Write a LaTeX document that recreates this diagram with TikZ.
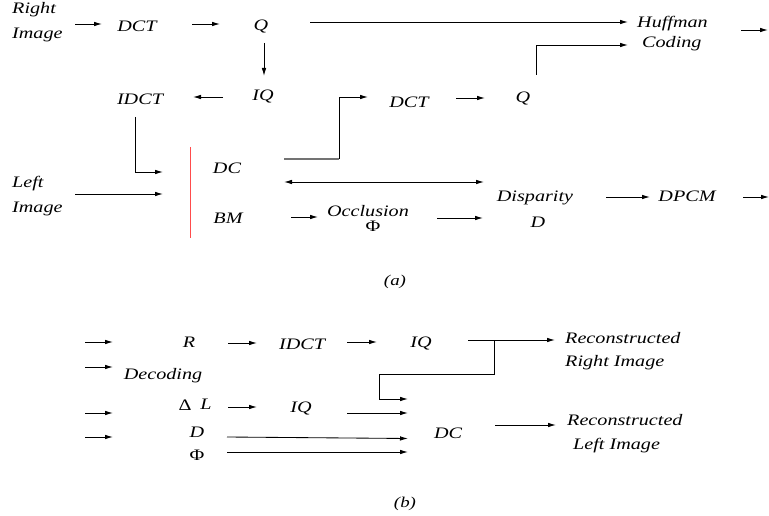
\documentclass[tikz,border=0pt]{standalone}
\usepackage{fontspec}
\setmainfont{Liberation Serif}[FakeStretch=1.26]
\usetikzlibrary{arrows.meta}
\tikzset{
  lbl/.style={font=\fontsize{16}{24}\selectfont\itshape, inner sep=0pt, anchor=base},
  lblw/.style={lbl, anchor=base west},
  captxt/.style={font=\fontsize{15}{18}\selectfont\itshape, inner sep=0pt, anchor=base},
  arr/.style={line width=0.85pt, -{Latex[length=8pt,width=4.5pt]}},
  darr/.style={line width=0.85pt, {Latex[length=8pt,width=4.5pt]}-{Latex[length=8pt,width=4.5pt]}},
  ln/.style={line width=0.85pt},
}
\begin{document}
\begin{tikzpicture}[x=1pt,y=-1pt]
\useasboundingbox (0,0) rectangle (769,516);
% ---------------- (a) labels
\node[lblw] (ri1) at (12,14) {Right};
\node[lblw] (ri2) at (12,39) {Image};
\node[lbl] (dct) at (137,32) {DCT};
\node[lbl] (q) at (261,31) {Q};
\node[lblw] (hf1) at (637,28) {Huffman};
\node[lblw] (hf2) at (642,48) {Coding};
\node[lbl] (iq) at (263,101) {IQ};
\node[lbl] (idct) at (140,105) {IDCT};
\node[lbl] (dcttwo) at (409,108) {DCT};
\node[lbl] (qtwo) at (523,103) {Q};
\node[lblw] (li1) at (12,188) {Left};
\node[lblw] (li2) at (12,213) {Image};
\node[lbl] (dc) at (227,174) {DC};
\node[lbl] (bm) at (228,224) {BM};
\node[lbl] (occ) at (368,216) {Occlusion};
\node[lbl] (phi) at (373,231) {\upshape Φ};
\node[lbl] (disp) at (535,202) {Disparity};
\node[lbl] (dd) at (538,227) {D};
\node[lbl] (dpcm) at (687,202) {DPCM};
\node[captxt] (capa) at (395,285) {(a)};
% ---------------- (a) connector points
\coordinate (a1) at (75,24);   \coordinate (a2) at (102,24);
\coordinate (b1) at (192,24);  \coordinate (b2) at (220,24);
\coordinate (c1) at (310,22);  \coordinate (c2) at (628,22);
\coordinate (d1) at (741,30);  \coordinate (d2) at (768,30);
\coordinate (e1) at (264,43);  \coordinate (e2) at (264,76);
\coordinate (f1) at (223,97);  \coordinate (f2) at (193,97);
\coordinate (g1) at (536,75);  \coordinate (g2) at (536,45);  \coordinate (g3) at (628,45);
\coordinate (h1) at (135,117); \coordinate (h2) at (135,172); \coordinate (h3) at (163,172);
\coordinate (i1) at (75,194);  \coordinate (i2) at (163,194);
\coordinate (r1) at (190.5,147); \coordinate (r2) at (190.5,238);
\coordinate (j1) at (284,159); \coordinate (j2) at (339,159); \coordinate (j3) at (339,97); \coordinate (j4) at (368,97);
\coordinate (k1) at (456,98);  \coordinate (k2) at (485,98);
\coordinate (l1) at (284,182); \coordinate (l2) at (484,182);
\coordinate (m1) at (291,217); \coordinate (m2) at (318,217);
\coordinate (n1) at (437,218); \coordinate (n2) at (483,218);
\coordinate (o1) at (606,197); \coordinate (o2) at (650,197);
\coordinate (p1) at (743,197); \coordinate (p2) at (769,197);
% ---------------- (a) connectors
\draw[arr] (a1) -- (a2);
\draw[arr] (b1) -- (b2);
\draw[arr] (c1) -- (c2);
\draw[arr] (d1) -- (d2);
\draw[arr] (e1) -- (e2);
\draw[arr] (f1) -- (f2);
\draw[arr] (g1) -- (g2) -- (g3);
\draw[arr] (h1) -- (h2) -- (h3);
\draw[arr] (i1) -- (i2);
\draw[red!70, line width=1pt] (r1) -- (r2);
\draw[ln, black!55, line width=1.1pt] (j1) -- (j2);
\draw[arr] (j2) -- (j3) -- (j4);
\draw[arr] (k1) -- (k2);
\draw[darr] (l1) -- (l2);
\draw[arr] (m1) -- (m2);
\draw[arr] (n1) -- (n2);
\draw[arr] (o1) -- (o2);
\draw[arr] (p1) -- (p2);
% ---------------- (b) labels
\node[lbl] (rr) at (189,347) {R};
\node[lbl] (dec) at (163,379) {Decoding};
\node[lbl] (idctb) at (302,349) {IDCT};
\node[lbl] (iqb) at (421,347) {IQ};
\node[lblw] (rec1) at (565,343) {Reconstructed};
\node[lblw] (rec2) at (565,366) {Right Image};
\node[lbl] (delta) at (185,410) {\upshape Δ};
\node[lbl] (ll) at (206,409) {L};
\node[lbl] (iqc) at (301,412) {IQ};
\node[lbl] (db) at (197,437) {D};
\node[lbl] (phib) at (197,460) {\upshape Φ};
\node[lbl] (dcb) at (448,438) {DC};
\node[lblw] (rel1) at (567,425) {Reconstructed};
\node[lblw] (rel2) at (573,449) {Left Image};
\node[captxt] (capb) at (405,507) {(b)};
% ---------------- (b) connector points
\coordinate (s1) at (85,342);  \coordinate (s2) at (113,342);
\coordinate (s3) at (85,367);  \coordinate (s4) at (113,367);
\coordinate (s5) at (85,413);  \coordinate (s6) at (113,413);
\coordinate (s7) at (85,437);  \coordinate (s8) at (113,437);
\coordinate (t1) at (228,343); \coordinate (t2) at (257,343);
\coordinate (u1) at (347,342); \coordinate (u2) at (377,342);
\coordinate (v1) at (468,340); \coordinate (v2) at (555,340);
\coordinate (w1) at (494,340); \coordinate (w2) at (494,374); \coordinate (w3) at (379,374);
\coordinate (w4) at (379,399); \coordinate (w5) at (408,399);
\coordinate (x1) at (228,407); \coordinate (x2) at (257,407);
\coordinate (y1) at (347,413); \coordinate (y2) at (408,413);
\coordinate (z1) at (227,437); \coordinate (z2) at (408,438.5);
\coordinate (z3) at (227,452); \coordinate (z4) at (408,452);
\coordinate (q1) at (495,425); \coordinate (q2) at (556,425);
% ---------------- (b) connectors
\draw[arr] (s1) -- (s2);
\draw[arr] (s3) -- (s4);
\draw[arr] (s5) -- (s6);
\draw[arr] (s7) -- (s8);
\draw[arr] (t1) -- (t2);
\draw[arr] (u1) -- (u2);
\draw[arr] (v1) -- (v2);
\draw[arr] (w1) -- (w2) -- (w3) -- (w4) -- (w5);
\draw[arr] (x1) -- (x2);
\draw[arr] (y1) -- (y2);
\draw[arr] (z1) -- (z2);
\draw[arr] (z3) -- (z4);
\draw[arr] (q1) -- (q2);
\end{tikzpicture}
\end{document}
